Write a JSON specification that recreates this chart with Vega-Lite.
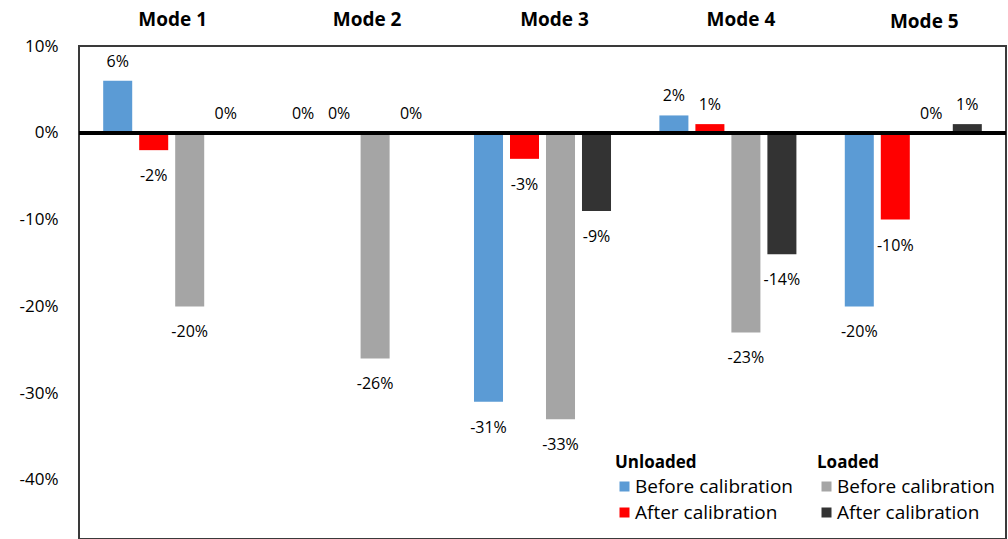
{
  "$schema": "https://vega.github.io/schema/vega-lite/v6.json",
  "width": 927,
  "height": 493,
  "autosize": "none",
  "padding": {"left": 79, "top": 46, "right": 2, "bottom": 0},
  "background": "white",
  "config": {
    "font": "Open Sans",
    "view": {"stroke": "#3a3a3a", "strokeWidth": 2},
    "locale": {
      "number": {"decimal": ".", "thousands": ",", "grouping": [3], "currency": ["$", ""], "minus": "-"}
    }
  },
  "data": {
    "values": [
      {"mode": "Mode 1", "series": "U-Before", "load": "Unloaded", "value": 0.06},
      {"mode": "Mode 1", "series": "U-After", "load": "Unloaded", "value": -0.02},
      {"mode": "Mode 1", "series": "L-Before", "load": "Loaded", "value": -0.20},
      {"mode": "Mode 1", "series": "L-After", "load": "Loaded", "value": 0.0},
      {"mode": "Mode 2", "series": "U-Before", "load": "Unloaded", "value": 0.0},
      {"mode": "Mode 2", "series": "U-After", "load": "Unloaded", "value": 0.0},
      {"mode": "Mode 2", "series": "L-Before", "load": "Loaded", "value": -0.26},
      {"mode": "Mode 2", "series": "L-After", "load": "Loaded", "value": 0.0},
      {"mode": "Mode 3", "series": "U-Before", "load": "Unloaded", "value": -0.31},
      {"mode": "Mode 3", "series": "U-After", "load": "Unloaded", "value": -0.03},
      {"mode": "Mode 3", "series": "L-Before", "load": "Loaded", "value": -0.33},
      {"mode": "Mode 3", "series": "L-After", "load": "Loaded", "value": -0.09},
      {"mode": "Mode 4", "series": "U-Before", "load": "Unloaded", "value": 0.02},
      {"mode": "Mode 4", "series": "U-After", "load": "Unloaded", "value": 0.01},
      {"mode": "Mode 4", "series": "L-Before", "load": "Loaded", "value": -0.23},
      {"mode": "Mode 4", "series": "L-After", "load": "Loaded", "value": -0.14},
      {"mode": "Mode 5", "series": "U-Before", "load": "Unloaded", "value": -0.20},
      {"mode": "Mode 5", "series": "U-After", "load": "Unloaded", "value": -0.10},
      {"mode": "Mode 5", "series": "L-Before", "load": "Loaded", "value": 0.0},
      {"mode": "Mode 5", "series": "L-After", "load": "Loaded", "value": 0.01}
    ]
  },
  "encoding": {
    "x": {
      "field": "mode",
      "type": "nominal",
      "sort": null,
      "scale": {"paddingInner": 0, "paddingOuter": 0},
      "axis": {
        "orient": "top",
        "title": null,
        "labelAngle": 0,
        "labelFontSize": 19,
        "labelFontWeight": "bold",
        "labelColor": "#000000",
        "labelPadding": {
          "condition": {"test": "datum.value === 'Mode 5'", "value": 15},
          "value": 17
        },
        "labelOffset": {
          "condition": [
            {"test": "datum.value === 'Mode 1'", "value": 1},
            {"test": "datum.value === 'Mode 2'", "value": 10},
            {"test": "datum.value === 'Mode 4'", "value": 13},
            {"test": "datum.value === 'Mode 5'", "value": 11}
          ],
          "value": 12
        },
        "ticks": false,
        "domain": false
      }
    },
    "xOffset": {
      "field": "series",
      "type": "nominal",
      "scale": {
        "domain": ["U-Before", "U-After", "L-Before", "L-After"],
        "paddingInner": 0.194,
        "paddingOuter": 0.672
      }
    },
    "y": {
      "field": "value",
      "type": "quantitative",
      "stack": null,
      "scale": {"domain": [-0.468, 0.10], "nice": false, "zero": false},
      "axis": {
        "title": null,
        "format": ".0%",
        "values": [-0.4, -0.3, -0.2, -0.1, 0, 0.1],
        "labelFontSize": 17,
        "labelColor": "#000000",
        "labelPadding": 21,
        "ticks": false,
        "grid": false,
        "domain": false
      }
    }
  },
  "layer": [
    {
      "transform": [{"filter": "datum.load === 'Unloaded'"}],
      "mark": {"type": "bar"},
      "encoding": {
        "color": {
          "field": "series",
          "type": "nominal",
          "scale": {"domain": ["U-Before", "U-After"], "range": ["#5b9bd5", "#ff0000"]},
          "legend": {
            "title": "Unloaded",
            "orient": "none",
            "legendX": 536,
            "legendY": 409,
            "direction": "vertical",
            "labelExpr": "datum.label === 'U-Before' ? 'Before calibration' : 'After calibration'",
            "titleFontSize": 17,
            "titleFontWeight": "bold",
            "titleColor": "#000000",
            "titlePadding": 5,
            "labelFontSize": 19,
            "labelColor": "#000000",
            "labelOffset": 1,
            "symbolType": "square",
            "symbolSize": 100,
            "symbolStrokeWidth": 0,
            "rowPadding": 6
          }
        }
      }
    },
    {
      "transform": [{"filter": "datum.load === 'Loaded'"}],
      "mark": {"type": "bar"},
      "encoding": {
        "fill": {
          "field": "series",
          "type": "nominal",
          "scale": {"domain": ["L-Before", "L-After"], "range": ["#a5a5a5", "#333333"]},
          "legend": {
            "title": "Loaded",
            "orient": "none",
            "legendX": 738,
            "legendY": 409,
            "direction": "vertical",
            "labelExpr": "datum.label === 'L-Before' ? 'Before calibration' : 'After calibration'",
            "titleFontSize": 17,
            "titleFontWeight": "bold",
            "titleColor": "#000000",
            "titlePadding": 5,
            "labelFontSize": 19,
            "labelColor": "#000000",
            "labelOffset": 1,
            "symbolType": "square",
            "symbolSize": 100,
            "symbolStrokeWidth": 0,
            "rowPadding": 6
          }
        }
      }
    },
    {
      "mark": {"type": "rule", "color": "#000000", "strokeWidth": 3},
      "encoding": {"y": {"datum": 0}, "x": null, "xOffset": null}
    },
    {
      "transform": [{"filter": "datum.value >= 0"}],
      "mark": {"type": "text", "fontSize": 16, "color": "#000000", "baseline": "alphabetic", "dy": -14},
      "encoding": {"text": {"field": "value", "type": "quantitative", "format": ".0%"}}
    },
    {
      "transform": [{"filter": "datum.value < 0"}],
      "mark": {"type": "text", "fontSize": 16, "color": "#000000", "baseline": "alphabetic", "dy": 31},
      "encoding": {"text": {"field": "value", "type": "quantitative", "format": ".0%"}}
    }
  ]
}
